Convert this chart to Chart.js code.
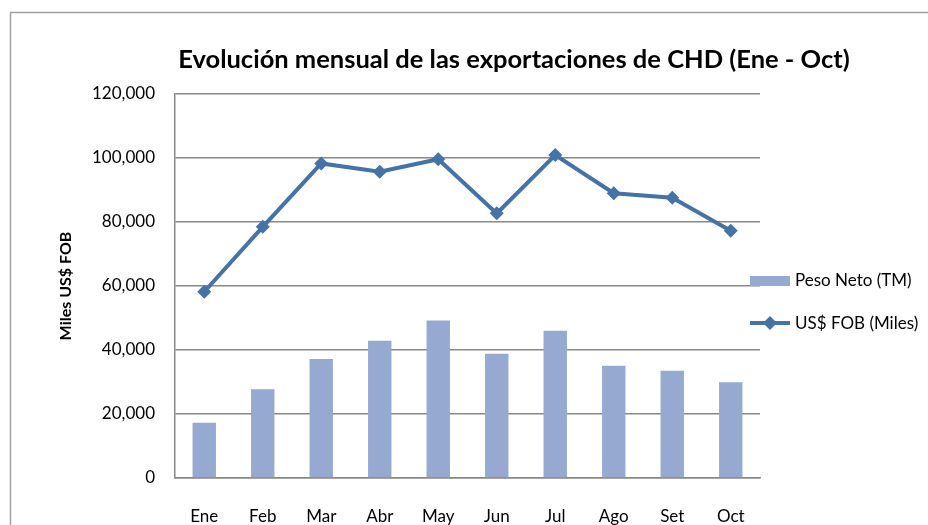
<!DOCTYPE html>
<html>
<head>
<meta charset="utf-8">
<script src="https://cdn.jsdelivr.net/npm/chart.js@4"></script>
<style>
  html, body { margin: 0; padding: 0; background: #fff; }
  #wrap { width: 928px; height: 525px; }
</style>
</head>
<body>
<div id="wrap"><canvas id="myChart" width="928" height="525"></canvas></div>
<script>
// data
var meses = ['Ene', 'Feb', 'Mar', 'Abr', 'May', 'Jun', 'Jul', 'Ago', 'Set', 'Oct'];
var pesoNeto = [17300, 27700, 37200, 42900, 49200, 38800, 46000, 35100, 33500, 29900];
var fobMiles = [58200, 78500, 98300, 95700, 99600, 82700, 100900, 89000, 87600, 77300];

var titulo = 'Evolución mensual de las exportaciones de CHD (Ene - Oct)';
var barColor = '#95a9d1';
var lineColor = '#4572a7';
var fontName = 'Lato, "Open Sans", sans-serif';

// outer frame, title and legend drawn by hand so they sit like the Excel ones
var framePlugin = {
  id: 'frame',
  beforeDraw: function(chart) {
    var ctx = chart.ctx;
    ctx.save();
    ctx.strokeStyle = '#a0a0a0';
    ctx.lineWidth = 1.5;
    ctx.beginPath();
    ctx.moveTo(10.5, 525);
    ctx.lineTo(10.5, 12.5);
    ctx.lineTo(928, 12.5);
    ctx.stroke();
    ctx.restore();
  },
  afterDraw: function(chart) {
    var ctx = chart.ctx;
    var ds = chart.data.datasets;
    var barDs = ds.filter(function(d) { return d.type === 'bar'; })[0];
    var lineDs = ds.filter(function(d) { return d.type === 'line'; })[0];
    ctx.save();
    // title
    ctx.font = 'bold 25.5px ' + fontName;
    ctx.fillStyle = '#000';
    ctx.textAlign = 'center';
    ctx.textBaseline = 'middle';
    ctx.fillText(titulo, 514, 60);

    ctx.textAlign = 'left';
    ctx.font = '17px ' + fontName;
    // bar item
    ctx.fillStyle = barDs.backgroundColor;
    ctx.fillRect(750, 276, 40, 10);
    ctx.fillStyle = '#000';
    ctx.fillText(barDs.label, 795, 281);
    // line item
    ctx.strokeStyle = lineDs.borderColor;
    ctx.lineWidth = 4;
    ctx.beginPath();
    ctx.moveTo(750, 323);
    ctx.lineTo(790, 323);
    ctx.stroke();
    ctx.fillStyle = lineDs.borderColor;
    ctx.beginPath();
    ctx.moveTo(770, 316);
    ctx.lineTo(777, 323);
    ctx.lineTo(770, 330);
    ctx.lineTo(763, 323);
    ctx.closePath();
    ctx.fill();
    ctx.fillStyle = '#000';
    ctx.fillText(lineDs.label, 795, 324);
    ctx.restore();
  }
};

var data = {
  labels: meses,
  datasets: [
    {
      type: 'line',
      label: 'US$ FOB (Miles)',
      data: fobMiles,
      borderColor: lineColor,
      backgroundColor: lineColor,
      borderWidth: 4,
      pointStyle: 'rectRot',
      pointRadius: 7,
      pointHoverRadius: 7,
      pointBackgroundColor: lineColor,
      pointBorderWidth: 0,
      tension: 0,
      order: 0
    },
    {
      type: 'bar',
      label: 'Peso Neto (TM)',
      data: pesoNeto,
      backgroundColor: barColor,
      borderWidth: 0,
      barPercentage: 0.4,
      categoryPercentage: 1,
      order: 1
    }
  ]
};

var config = {
  data: data,
  plugins: [framePlugin],
  options: {
    responsive: false,
    animation: false,
    layout: { padding: { left: 0, right: 168, top: 94, bottom: 0 } },
    plugins: {
      legend: { display: false },
      tooltip: { enabled: false },
      title: { display: false }
    },
    scales: {
      x: {
        grid: { display: false, drawTicks: false },
        border: { display: true, color: '#888', width: 1.5 },
        ticks: { color: '#000', font: { family: fontName, size: 17 }, padding: 28 },
        afterFit: function(scale) { scale.height = 47; }
      },
      y: {
        min: 0,
        max: 120000,
        ticks: {
          stepSize: 20000,
          color: '#000',
          padding: 20,
          font: { family: fontName, size: 17 },
          callback: function(v) { return v.toLocaleString('en-US'); }
        },
        grid: { color: '#888', lineWidth: 1.5, drawTicks: false },
        border: { display: true, color: '#888', width: 1.5 },
        title: {
          display: true,
          text: 'Miles US$ FOB',
          color: '#000',
          font: { family: fontName, size: 16, weight: 'bold' },
          padding: { top: 56, bottom: 0 }
        },
        afterFit: function(scale) { scale.width = 175; }
      }
    }
  }
};

var myChart = new Chart(document.getElementById('myChart'), config);
</script>
</body>
</html>
